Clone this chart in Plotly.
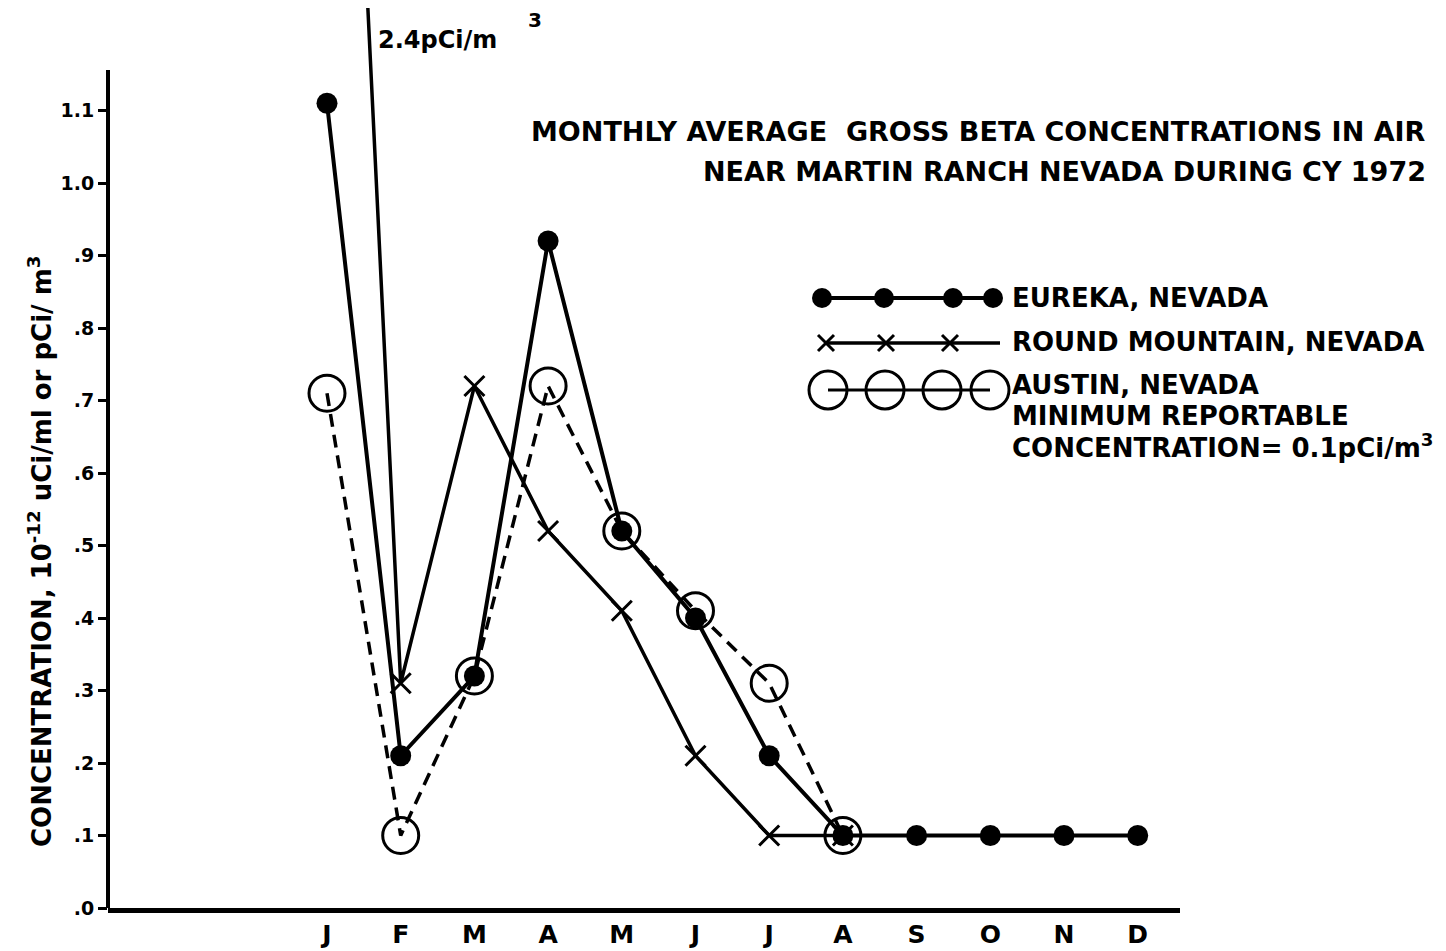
import plotly.graph_objects as go

months = ["J", "F", "M", "A", "M", "J", "J", "A", "S", "O", "N", "D"]
month_idx = list(range(1, 13))

eureka = [1.11, 0.21, 0.32, 0.92, 0.52, 0.40, 0.21, 0.10, 0.10, 0.10, 0.10, 0.10]
round_mountain = [2.4, 0.31, 0.72, 0.52, 0.41, 0.21, 0.10, 0.10]
austin = [0.71, 0.10, 0.32, 0.72, 0.52, 0.41, 0.31, 0.10]

ytick_vals = [0, 0.1, 0.2, 0.3, 0.4, 0.5, 0.6, 0.7, 0.8, 0.9, 1.0, 1.1]
ytick_text = [".0", ".1", ".2", ".3", ".4", ".5", ".6", ".7", ".8", ".9", "1.0", "1.1"]

# page body adds an 8px margin; work in screen pixels and subtract it
OFF = 8
W, H = 1446 - OFF, 951 - OFF
L, R, T, B = 108 - OFF, 1180 - OFF, 0, 908 - OFF
PX_PER_UNIT = 725.0
FONT = "DejaVu Sans"


def px(X):
    return (X - OFF - L) / (R - L)


def py(Y):
    return (B - (Y - OFF)) / (B - T)


fig = go.Figure()

# Austin (dashed, open circles)
fig.add_trace(go.Scatter(
    x=month_idx[:len(austin)], y=austin, mode="lines+markers",
    line=dict(color="black", width=3.5, dash="13px,8px"),
    marker=dict(symbol="circle-open", size=36, color="black", line=dict(width=3, color="black")),
    showlegend=False))

# Round Mountain (solid, x markers)
fig.add_trace(go.Scatter(
    x=month_idx[:len(round_mountain)], y=round_mountain, mode="lines+markers",
    line=dict(color="black", width=3.5),
    marker=dict(symbol="x-thin", size=20, color="black", line=dict(width=3, color="black")),
    showlegend=False))

# Eureka (solid, filled dots)
fig.add_trace(go.Scatter(
    x=month_idx, y=eureka, mode="lines+markers",
    line=dict(color="black", width=4),
    marker=dict(symbol="circle", size=21, color="black"),
    showlegend=False))

# Legend key glyphs on a screen-pixel overlay axis
key_x_eu = [822, 884, 953, 993]
key_x_rm = [826, 886, 950]
key_x_au = [828, 885, 942, 990]
fig.add_trace(go.Scatter(x=[822, 993], y=[298, 298], mode="lines", xaxis="x2", yaxis="y2",
                         line=dict(color="black", width=4), showlegend=False, hoverinfo="skip"))
fig.add_trace(go.Scatter(x=key_x_eu, y=[298] * 4, mode="markers", xaxis="x2", yaxis="y2",
                         marker=dict(symbol="circle", size=20, color="black"), showlegend=False, hoverinfo="skip"))
fig.add_trace(go.Scatter(x=[826, 1000], y=[343, 343], mode="lines", xaxis="x2", yaxis="y2",
                         line=dict(color="black", width=3.5), showlegend=False, hoverinfo="skip"))
fig.add_trace(go.Scatter(x=key_x_rm, y=[343] * 3, mode="markers", xaxis="x2", yaxis="y2",
                         marker=dict(symbol="x-thin", size=16, color="black", line=dict(width=3, color="black")),
                         showlegend=False, hoverinfo="skip"))
fig.add_trace(go.Scatter(x=[828, 990], y=[390, 390], mode="lines", xaxis="x2", yaxis="y2",
                         line=dict(color="black", width=3), showlegend=False, hoverinfo="skip"))
fig.add_trace(go.Scatter(x=key_x_au, y=[390] * 4, mode="markers", xaxis="x2", yaxis="y2",
                         marker=dict(symbol="circle-open", size=38, color="black", line=dict(width=3, color="black")),
                         showlegend=False, hoverinfo="skip"))

ann = []


def text(X, Y, s, size=19, xanchor="left", angle=0):
    ann.append(dict(x=px(X), y=py(Y), xref="paper", yref="paper", text=s, showarrow=False,
                    xanchor=xanchor, yanchor="middle", textangle=angle,
                    font=dict(family=FONT, size=size, color="black", weight="bold")))


text(1428, 131, "MONTHLY AVERAGE  GROSS BETA CONCENTRATIONS IN AIR", 27, "right")
text(1428, 172, "NEAR MARTIN RANCH NEVADA DURING CY 1972", 27, "right")
text(1010, 298, "EUREKA, NEVADA", 26)
text(1010, 342, "ROUND MOUNTAIN, NEVADA", 26)
text(1010, 385, "AUSTIN, NEVADA", 26)
text(1010, 416, "MINIMUM REPORTABLE", 26)
text(1010, 446, "CONCENTRATION= 0.1pCi/m<sup>3</sup>", 26)
text(376, 40, "2.4pCi/m", 24)
text(526, 20, "3", 20)
text(40, 552, "CONCENTRATION, 10<sup>-12</sup> uCi/ml or pCi/ m<sup>3</sup>", 26, "center", -90)

x_lo = 1 - (327 - 108) / 73.7
x_hi = 1 + (1180 - 327) / 73.7

fig.update_layout(
    width=W, height=H,
    margin=dict(l=L, r=W - R, t=T, b=H - B, autoexpand=False),
    paper_bgcolor="white", plot_bgcolor="white",
    font=dict(family=FONT, color="black"),
    xaxis=dict(range=[x_lo, x_hi], tickvals=month_idx, ticktext=months,
               showgrid=False, zeroline=False, showline=True, linewidth=5, linecolor="black",
               ticks="", ticklabelstandoff=0, automargin=False,
               tickfont=dict(family=FONT, size=25, color="black", weight="bold")),
    yaxis=dict(range=[0, (B - T) / PX_PER_UNIT], tickvals=ytick_vals, ticktext=ytick_text,
               showgrid=False, zeroline=False, showline=False, automargin=False,
               ticks="outside", ticklen=9, tickwidth=3, tickcolor="black",
               tickfont=dict(family=FONT, size=19, color="black", weight="bold")),
    xaxis2=dict(overlaying="x", range=[108, 1180], visible=False),
    yaxis2=dict(overlaying="y", range=[908, 908 - (B - T)], visible=False),
    annotations=ann,
    shapes=[dict(type="line", xref="paper", yref="y", x0=0, x1=0, y0=0, y1=(908 - 70) / PX_PER_UNIT,
                 line=dict(color="black", width=4))],
)

fig.write_html("out.html")
